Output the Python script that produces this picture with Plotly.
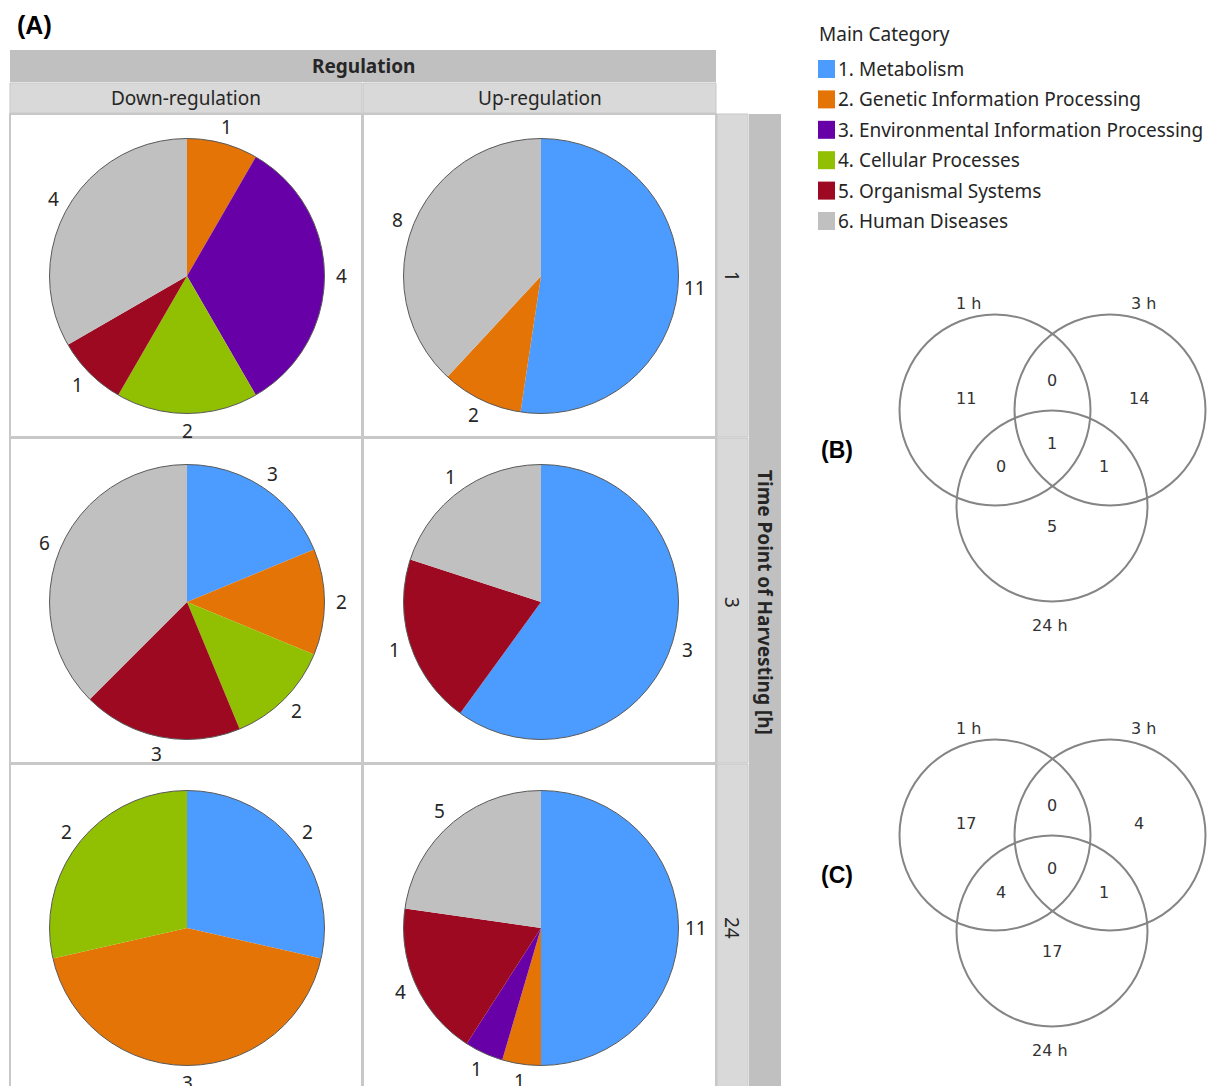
import math
import plotly.graph_objects as go

# ---- data -------------------------------------------------------------
categories = [
    "1. Metabolism",
    "2. Genetic Information Processing",
    "3. Environmental Information Processing",
    "4. Cellular Processes",
    "5. Organismal Systems",
    "6. Human Diseases",
]
category_colors = ["#4C9CFF", "#E37405", "#6800A8", "#91BF02", "#9C0920", "#C0C0C0"]

regulation = ["Down-regulation", "Up-regulation"]
time_points = ["1", "3", "24"]

# counts per category (same order as `categories`)
down_1h = [0, 1, 4, 2, 1, 4]
up_1h = [11, 2, 0, 0, 0, 8]
down_3h = [3, 2, 0, 2, 3, 6]
up_3h = [3, 0, 0, 0, 1, 1]
down_24h = [2, 3, 0, 2, 0, 0]
up_24h = [11, 1, 1, 0, 4, 5]

# Venn region counts: [1h only, 3h only, 24h only, 1h&3h, 1h&24h, 3h&24h, all]
venn_sets = ["1 h", "3 h", "24 h"]
venn_b_counts = [11, 14, 5, 0, 0, 1, 1]
venn_c_counts = [17, 4, 17, 0, 4, 1, 0]

# ---- layout helpers (pixel -> paper) ----------------------------------
W, H = 1215, 1086


def fx(x):
    return x / W


def fy(y):
    return 1 - y / H


TEXT = "#262626"
FONT = "Noto Sans"

fig = go.Figure()
shapes = []
annotations = []

# ---- panel A: grid of pies --------------------------------------------
col_x = [(10, 362), (363, 716)]
row_y = [(114, 437), (438, 763), (764, 1090)]
pie_cx = [187, 541]
pie_cy = [276, 602, 928]
R = 137.5
LABEL_GAP = 17

grid = [[down_1h, up_1h], [down_3h, up_3h], [down_24h, up_24h]]

# header bars
shapes.append(dict(type="rect", xref="paper", yref="paper", layer="below",
                   x0=fx(10), x1=fx(716), y0=fy(82), y1=fy(50),
                   fillcolor="#C0C0C0", line=dict(width=0)))
for (x0, x1), name in zip(col_x, regulation):
    shapes.append(dict(type="rect", xref="paper", yref="paper", layer="below",
                       x0=fx(x0), x1=fx(x1), y0=fy(113), y1=fy(83),
                       fillcolor="#D9D9D9", line=dict(color="#C8C8C8", width=1)))
    annotations.append(dict(x=fx((x0 + x1) / 2), y=fy(98), xref="paper", yref="paper",
                            text=name, showarrow=False, xanchor="center", yanchor="middle",
                            font=dict(family=FONT, size=19, color=TEXT)))
annotations.append(dict(x=fx(363), y=fy(66), xref="paper", yref="paper",
                        text="<b>Regulation</b>", showarrow=False,
                        xanchor="center", yanchor="middle",
                        font=dict(family=FONT, size=19, color=TEXT)))

# right strip with time points
shapes.append(dict(type="rect", xref="paper", yref="paper", layer="below",
                   x0=fx(749), x1=fx(781), y0=fy(1090), y1=fy(114),
                   fillcolor="#C0C0C0", line=dict(width=0)))
for (y0, y1), tp, cy in zip(row_y, time_points, pie_cy):
    shapes.append(dict(type="rect", xref="paper", yref="paper", layer="below",
                       x0=fx(717), x1=fx(748), y0=fy(y1), y1=fy(y0),
                       fillcolor="#D9D9D9", line=dict(color="#C8C8C8", width=1)))
    annotations.append(dict(x=fx(732), y=fy(cy), xref="paper", yref="paper",
                            text=tp, textangle=90,
                            showarrow=False, xanchor="center", yanchor="middle",
                            font=dict(family=FONT, size=19, color=TEXT)))
annotations.append(dict(x=fx(765), y=fy(602), xref="paper", yref="paper",
                        text="<b>Time Point of Harvesting [h]</b>", textangle=90,
                        showarrow=False, xanchor="center", yanchor="middle",
                        font=dict(family=FONT, size=19, color=TEXT)))

# cell borders
for (y0, y1) in row_y:
    for (x0, x1) in col_x:
        shapes.append(dict(type="rect", xref="paper", yref="paper", layer="below",
                           x0=fx(x0), x1=fx(x1), y0=fy(y1), y1=fy(y0),
                           fillcolor="white", line=dict(color="#C8C8C8", width=2)))

for r, row in enumerate(grid):
    for c, counts in enumerate(row):
        labs = [cat for cat, v in zip(categories, counts) if v > 0]
        vals = [v for v in counts if v > 0]
        cols = [col for col, v in zip(category_colors, counts) if v > 0]
        cx, cy = pie_cx[c], pie_cy[r]
        fig.add_trace(go.Pie(
            labels=labs, values=vals, sort=False, direction="clockwise", rotation=0,
            marker=dict(colors=cols, line=dict(width=0)),
            textinfo="none",
            showlegend=False, hoverinfo="label+value",
            domain=dict(x=[fx(cx - R), fx(cx + R)], y=[fy(cy + R), fy(cy - R)]),
        ))
        shapes.append(dict(type="circle", xref="paper", yref="paper", layer="above",
                           x0=fx(cx - R), x1=fx(cx + R), y0=fy(cy + R), y1=fy(cy - R),
                           line=dict(color="#5A5A5A", width=1)))
        # value labels just outside each slice, at the slice's mid angle
        total = sum(vals)
        start = 0.0
        for v in vals:
            mid = (start + v / 2) / total * 2 * math.pi
            start += v
            lx = cx + (R + LABEL_GAP) * math.sin(mid)
            ly = cy - (R + LABEL_GAP) * math.cos(mid)
            annotations.append(dict(x=fx(lx), y=fy(ly), xref="paper", yref="paper",
                                    text=str(v), showarrow=False,
                                    xanchor="center", yanchor="middle",
                                    font=dict(family=FONT, size=19, color=TEXT)))

annotations.append(dict(x=fx(15), y=fy(25), xref="paper", yref="paper",
                        text="<b>(A)</b>", showarrow=False, xanchor="left", yanchor="middle",
                        font=dict(family="Liberation Sans", size=25, color="black")))

# ---- legend ------------------------------------------------------------
annotations.append(dict(x=fx(817), y=fy(34), xref="paper", yref="paper",
                        text="Main Category", showarrow=False, xanchor="left", yanchor="middle",
                        font=dict(family=FONT, size=19, color=TEXT)))
for i, (cat, col) in enumerate(zip(categories, category_colors)):
    yc = 69 + i * 30.4
    shapes.append(dict(type="rect", xref="paper", yref="paper",
                       x0=fx(818), x1=fx(835), y0=fy(yc + 9), y1=fy(yc - 9),
                       fillcolor=col, line=dict(width=0)))
    annotations.append(dict(x=fx(836), y=fy(yc), xref="paper", yref="paper",
                            text=cat, showarrow=False, xanchor="left", yanchor="middle",
                            font=dict(family=FONT, size=19, color=TEXT)))

# ---- panels B and C: Venn diagrams ------------------------------------
venn_r = 95.5
circle_offsets = [(-57, -48), (58, -48), (0, 48)]  # relative to diagram centre
label_offsets = [(-84, -155), (91, -155), (-2, 167)]
region_offsets = [(-86, -60), (87, -60), (0, 68), (0, -78), (-51, 9), (52, 9), (0, -15)]


def draw_venn(cx, cy, counts, tag):
    for (dx, dy), name, loff in zip(circle_offsets, venn_sets, label_offsets):
        x0, y0 = cx + dx, cy + dy
        shapes.append(dict(type="circle", xref="paper", yref="paper",
                           x0=fx(x0 - venn_r), x1=fx(x0 + venn_r),
                           y0=fy(y0 + venn_r), y1=fy(y0 - venn_r),
                           line=dict(color="#858585", width=2)))
        annotations.append(dict(x=fx(cx + loff[0]), y=fy(cy + loff[1]),
                                xref="paper", yref="paper", text=name, showarrow=False,
                                xanchor="center", yanchor="middle",
                                font=dict(family="DejaVu Sans", size=16, color="#333333")))
    for (dx, dy), v in zip(region_offsets, counts):
        annotations.append(dict(x=fx(cx + dx), y=fy(cy + dy), xref="paper", yref="paper",
                                text=str(v), showarrow=False,
                                xanchor="center", yanchor="middle",
                                font=dict(family="DejaVu Sans", size=16, color="#333333")))
    annotations.append(dict(x=fx(819), y=fy(cy - 8), xref="paper", yref="paper",
                            text=f"<b>{tag}</b>", showarrow=False,
                            xanchor="left", yanchor="middle",
                            font=dict(family="Liberation Sans", size=23, color="black")))


draw_venn(1052, 458, venn_b_counts, "(B)")
draw_venn(1052, 883, venn_c_counts, "(C)")

fig.update_layout(
    width=W, height=H,
    margin=dict(l=0, r=0, t=0, b=0, autoexpand=False),
    paper_bgcolor="white", plot_bgcolor="white",
    shapes=shapes, annotations=annotations,
    showlegend=False,
)

fig.write_html("out.html")
